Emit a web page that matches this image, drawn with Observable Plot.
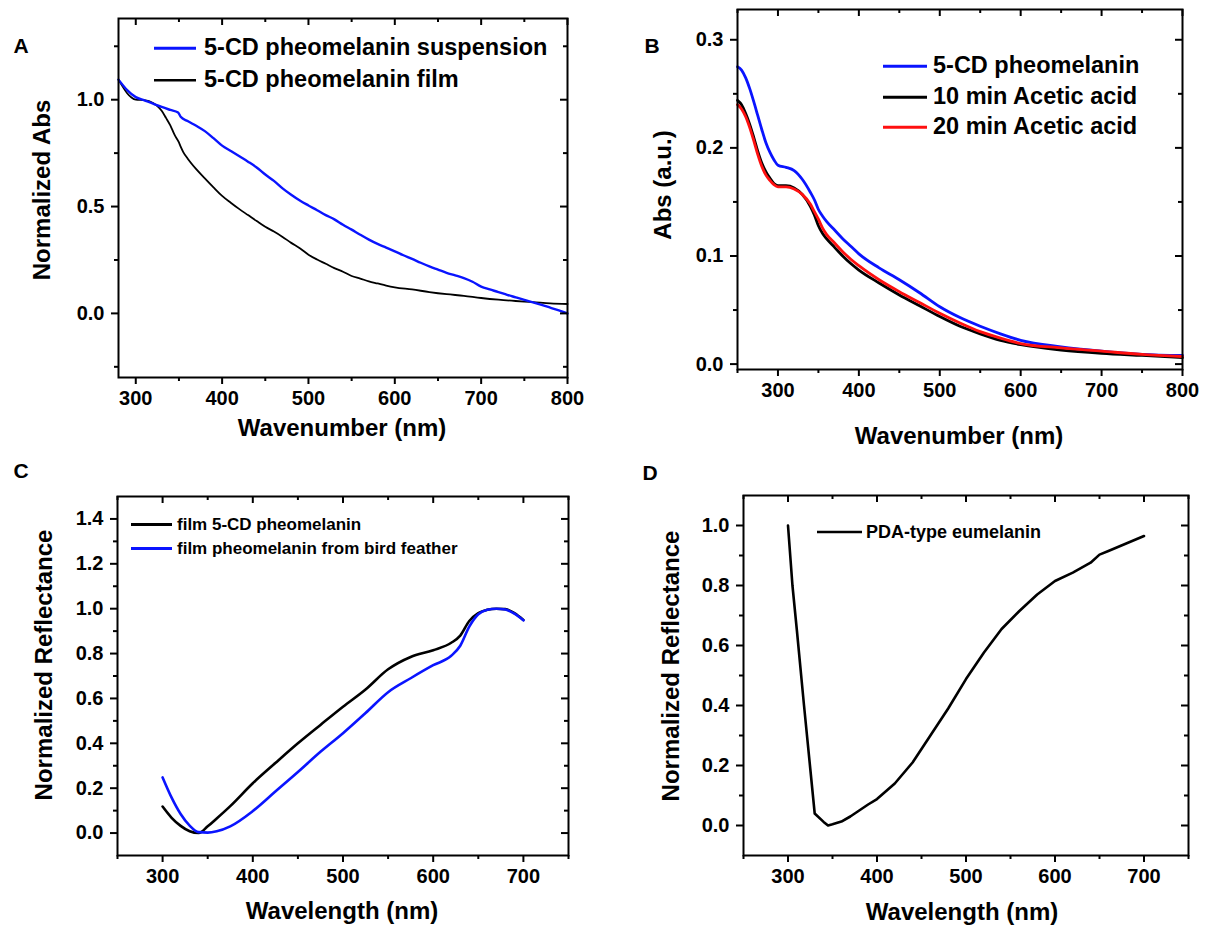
<!DOCTYPE html>
<html><head><meta charset="utf-8">
<script src="https://cdn.jsdelivr.net/npm/d3@7"></script>
<script src="https://cdn.jsdelivr.net/npm/@observablehq/plot@0.6"></script>
<style>
body{margin:0;background:#fff;}
#fig{position:relative;width:1207px;height:925px;font-family:"Liberation Sans",Arial,sans-serif;font-weight:bold;color:#000;overflow:hidden;background:#fff}
.panel{position:absolute}
.t{position:absolute;white-space:nowrap;line-height:1}
.c{transform:translate(-50%,-50%)}
.r{transform:translate(-50%,-50%) rotate(-90deg)}
.leg{position:absolute;display:flex;align-items:center;white-space:nowrap;transform:translateY(-50%);line-height:1}
.leg svg{display:block}
</style>
</head><body><div id="fig"></div>
<script>
// ---------- Panel A data ----------
const aSuspNm  = [280,290,300,310,320,330,340,349,352,360,370,380,390,400,410,420,430,440,450,460,470,480,490,500,510,520,530,540,550,560,570,580,590,600,610,620,630,640,650,660,670,680,690,700,710,720,730,740,750,760,770,780,790,800];
const aSuspAbs = [1.094,1.045,1.012,0.997,0.982,0.966,0.952,0.94,0.92,0.90,0.878,0.853,0.82,0.785,0.76,0.735,0.71,0.683,0.65,0.62,0.585,0.555,0.528,0.505,0.483,0.46,0.44,0.415,0.392,0.368,0.345,0.325,0.308,0.29,0.272,0.255,0.237,0.22,0.205,0.19,0.178,0.165,0.148,0.125,0.112,0.1,0.087,0.075,0.063,0.052,0.04,0.027,0.014,0.0];
const aFilmNm  = [280,285,290,295,300,310,320,325,330,335,340,345,350,352,355,360,370,380,390,400,410,420,430,440,450,460,470,480,490,500,510,520,530,540,550,560,570,580,590,600,620,640,660,680,700,720,740,760,780,800];
const aFilmAbs = [1.094,1.06,1.03,1.01,1.0,0.998,0.985,0.97,0.948,0.915,0.88,0.835,0.8,0.78,0.755,0.725,0.675,0.632,0.59,0.55,0.518,0.488,0.46,0.432,0.405,0.383,0.358,0.33,0.305,0.275,0.252,0.232,0.212,0.195,0.175,0.163,0.15,0.14,0.13,0.122,0.112,0.1,0.09,0.082,0.072,0.064,0.058,0.053,0.047,0.044];
const aXMajor = [300,400,500,600,700,800];
const aXMinor = [350,450,550,650,750];
const aYMajor = [0,0.5,1.0];
const aYMinor = [-0.25,0.25,0.75,1.25];

// ---------- Panel B data ----------
const bNm     = [250,255,260,265,270,275,280,285,290,295,300,310,320,330,340,345,350,355,360,370,380,390,400,425,450,475,500,525,550,575,600,650,700,750,800];
const b5CD    = [0.275,0.272,0.265,0.255,0.243,0.230,0.217,0.205,0.196,0.189,0.184,0.182,0.179,0.171,0.159,0.152,0.143,0.137,0.132,0.124,0.116,0.109,0.102,0.089,0.078,0.066,0.053,0.043,0.035,0.028,0.022,0.016,0.012,0.009,0.008];
const b10min  = [0.244,0.240,0.232,0.222,0.210,0.197,0.186,0.178,0.172,0.167,0.165,0.165,0.163,0.157,0.146,0.138,0.128,0.121,0.116,0.108,0.100,0.093,0.087,0.075,0.064,0.054,0.044,0.035,0.028,0.022,0.018,0.013,0.010,0.008,0.006];
const b20min  = [0.240,0.236,0.229,0.219,0.207,0.194,0.183,0.175,0.170,0.166,0.164,0.164,0.162,0.157,0.148,0.141,0.134,0.126,0.120,0.112,0.104,0.097,0.091,0.078,0.067,0.057,0.047,0.038,0.030,0.024,0.019,0.015,0.012,0.009,0.007];
const bXMajor = [300,400,500,600,700,800];
const bXMinor = [250,350,450,550,650,750];
const bYMajor = [0,0.1,0.2,0.3];
const bYMinor = [0.05,0.15,0.25];

// ---------- Panel C data ----------
const cNm      = [300,310,320,330,340,350,360,375,400,425,450,475,500,525,550,575,600,620,630,640,650,660,670,680,690,700];
const cFilm5CD = [0.118,0.068,0.032,0.008,0.0,0.03,0.065,0.12,0.222,0.312,0.4,0.482,0.563,0.64,0.73,0.785,0.815,0.848,0.88,0.945,0.98,0.995,1.0,0.998,0.98,0.95];
const cBird    = [0.248,0.158,0.085,0.033,0.004,0.002,0.008,0.03,0.098,0.185,0.272,0.362,0.445,0.535,0.628,0.69,0.748,0.79,0.835,0.92,0.975,0.995,1.0,0.996,0.978,0.948];
const cXMajor = [300,400,500,600,700];
const cXMinor = [250,350,450,550,650,750];
const cYMajor = [0,0.2,0.4,0.6,0.8,1.0,1.2,1.4];
const cYMinor = [0.1,0.3,0.5,0.7,0.9,1.1,1.3];

// ---------- Panel D data ----------
const dNm  = [300,305,310,318,325,330,340,345,350,360,370,380,390,400,420,440,460,480,500,520,540,560,580,600,620,640,650,660,680,700];
const dPDA = [1.0,0.8,0.65,0.4,0.19,0.04,0.012,0.0,0.004,0.013,0.03,0.05,0.07,0.088,0.14,0.21,0.3,0.39,0.488,0.576,0.655,0.715,0.77,0.815,0.843,0.876,0.903,0.915,0.94,0.965];
const dXMajor = [300,400,500,600,700];
const dXMinor = [250,350,450,550,650,750];
const dYMajor = [0,0.2,0.4,0.6,0.8,1.0];
const dYMinor = [0.1,0.3,0.5,0.7,0.9];

const fig = document.getElementById("fig");

function panel(o) {
  const [mt, mr, mb, ml] = o.margin;
  const fw = o.width - ml - mr, fh = o.height - mt - mb;
  const rows = s => s.x.map((x, i) => ({x, y: s.y[i]}));
  const chart = Plot.plot({
    width: o.width, height: o.height,
    marginTop: mt, marginRight: mr, marginBottom: mb, marginLeft: ml,
    x: {domain: o.xDomain},
    y: {domain: o.yDomain},
    style: {fontSize: "20px", fontWeight: "bold", fontFamily: "'Liberation Sans', Arial, sans-serif", background: "transparent", overflow: "visible", color: "#000"},
    marks: [
      ...o.series.map(s => Plot.line(rows(s), {x: "x", y: "y", stroke: s.color, strokeWidth: s.width, curve: s.curve || "monotone-x"})),
      Plot.axisX({ticks: o.xMajor, tickSize: 7, tickPadding: 6, tickFormat: d3.format("d"), strokeWidth: 2, label: null}),
      Plot.axisX({ticks: o.xMinor, tickSize: 4, tickFormat: () => "", strokeWidth: 2, label: null}),
      Plot.axisY({ticks: o.yMajor, tickSize: 7, tickPadding: 7, tickFormat: d3.format(".1f"), strokeWidth: 2, label: null}),
      Plot.axisY({ticks: o.yMinor, tickSize: 4, tickFormat: () => "", strokeWidth: 2, label: null}),
      Plot.tickX(o.xMajor, {x: d => d, insetBottom: fh - 7, strokeWidth: 2}),
      Plot.tickX(o.xMinor, {x: d => d, insetBottom: fh - 4, strokeWidth: 2}),
      Plot.tickY(o.yMajor, {y: d => d, insetLeft: fw - 7, strokeWidth: 2}),
      Plot.tickY(o.yMinor, {y: d => d, insetLeft: fw - 4, strokeWidth: 2}),
      Plot.frame({strokeWidth: 2})
    ]
  });
  const wrap = document.createElement("div");
  wrap.className = "panel";
  wrap.style.left = o.left + "px";
  wrap.style.top = o.top + "px";
  wrap.appendChild(chart);
  fig.appendChild(wrap);
}

function text(str, x, y, size, cls) {
  const d = document.createElement("div");
  d.className = "t " + cls;
  d.style.left = x + "px"; d.style.top = y + "px"; d.style.fontSize = size + "px";
  d.textContent = str;
  fig.appendChild(d);
}

function legend(items, x0, x1, xt, size) {
  for (const it of items) {
    const d = document.createElement("div");
    d.className = "leg";
    d.style.left = x0 + "px"; d.style.top = it.y + "px"; d.style.fontSize = size + "px";
    const len = x1 - x0;
    d.innerHTML = `<svg width="${len}" height="6"><line x1="0" x2="${len}" y1="3" y2="3" stroke="${it.color}" stroke-width="${it.w}"/></svg><span style="margin-left:${xt - x1}px">${it.label}</span>`;
    fig.appendChild(d);
  }
}

const BLUE = "#0a14ff", RED = "#ff1010", BLACK = "#000";

panel({left: 0, top: 0, width: 600, height: 450, margin: [18, 33, 73, 118],
  xDomain: [280, 800], yDomain: [-0.3, 1.38],
  xMajor: aXMajor, xMinor: aXMinor, yMajor: aYMajor, yMinor: aYMinor,
  series: [
    {x: aFilmNm, y: aFilmAbs, color: BLACK, width: 1.8},
    {x: aSuspNm, y: aSuspAbs, color: BLUE, width: 2.4}
  ]});
panel({left: 600, top: 0, width: 607, height: 450, margin: [9, 25, 81, 137],
  xDomain: [250, 800], yDomain: [-0.005, 0.328],
  xMajor: bXMajor, xMinor: bXMinor, yMajor: bYMajor, yMinor: bYMinor,
  series: [
    {x: bNm, y: b5CD, color: BLUE, width: 2.8},
    {x: bNm, y: b10min, color: BLACK, width: 2.8},
    {x: bNm, y: b20min, color: RED, width: 2.8}
  ]});
panel({left: 0, top: 450, width: 600, height: 475, margin: [46, 32, 70, 117],
  xDomain: [250, 750], yDomain: [-0.1, 1.5],
  xMajor: cXMajor, xMinor: cXMinor, yMajor: cYMajor, yMinor: cYMinor,
  series: [
    {x: cNm, y: cFilm5CD, color: BLACK, width: 2.6},
    {x: cNm, y: cBird, color: BLUE, width: 2.6}
  ]});
panel({left: 600, top: 450, width: 607, height: 475, margin: [45, 19, 70, 143],
  xDomain: [250, 750], yDomain: [-0.1, 1.1],
  xMajor: dXMajor, xMinor: dXMinor, yMajor: dYMajor, yMinor: dYMinor,
  series: [
    {x: dNm, y: dPDA, color: BLACK, width: 2.6, curve: "linear"}
  ]});

// panel letters
text("A", 21, 45, 21, "c");
text("B", 652, 45, 21, "c");
text("C", 21, 470, 21, "c");
text("D", 650, 472, 21, "c");

// axis titles
text("Wavenumber (nm)", 342, 428, 24, "c");
text("Normalized Abs", 42, 190, 24, "r");
text("Wavenumber (nm)", 959, 436, 24, "c");
text("Abs (a.u.)", 663, 185, 24, "r");
text("Wavelength (nm)", 342, 911, 24, "c");
text("Normalized Reflectance", 44, 665, 24, "r");
text("Wavelength (nm)", 962, 912, 24, "c");
text("Normalized Reflectance", 671, 666, 24, "r");

// legends
legend([
  {y: 48, color: BLUE, w: 3, label: "5-CD pheomelanin suspension"},
  {y: 80, color: BLACK, w: 2.5, label: "5-CD pheomelanin film"}
], 154, 196, 204, 23.5);
legend([
  {y: 66, color: BLUE, w: 3, label: "5-CD pheomelanin"},
  {y: 97, color: BLACK, w: 3, label: "10 min Acetic acid"},
  {y: 127, color: RED, w: 3, label: "20 min Acetic acid"}
], 883, 927, 933, 23.5);
legend([
  {y: 524, color: BLACK, w: 3, label: "film 5-CD pheomelanin"},
  {y: 548, color: BLUE, w: 3, label: "film pheomelanin from bird feather"}
], 131, 172, 177, 17);
legend([
  {y: 532, color: BLACK, w: 2.5, label: "PDA-type eumelanin"}
], 817, 862, 866, 18);
</script>
</body></html>
